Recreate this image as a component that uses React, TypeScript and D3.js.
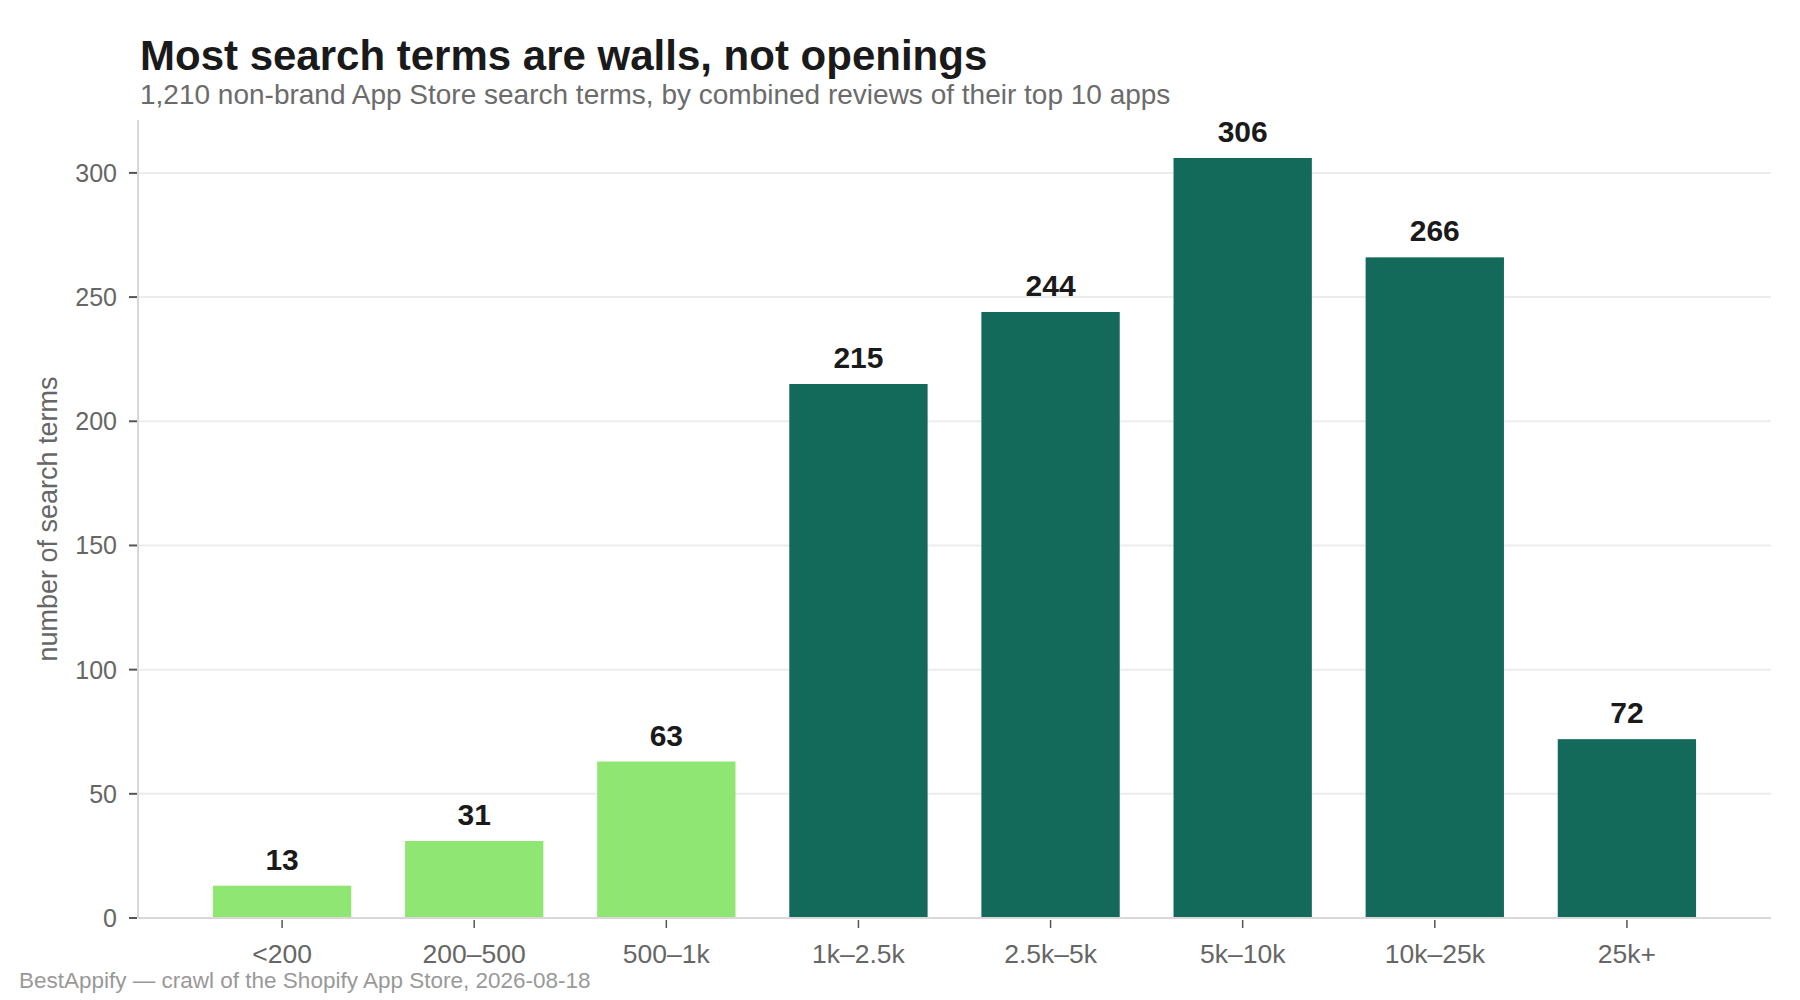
import * as d3 from "d3";
import { useEffect, useRef } from "react";

const categories = ["<200", "200–500", "500–1k", "1k–2.5k", "2.5k–5k", "5k–10k", "10k–25k", "25k+"];
const counts = [13, 31, 63, 215, 244, 306, 266, 72];
const tiers = ["opening", "opening", "opening", "wall", "wall", "wall", "wall", "wall"];
const yTicks = [0, 50, 100, 150, 200, 250, 300];

const WIDTH = 1800;
const HEIGHT = 1000;
const FONT = "'Liberation Sans', Arial, Helvetica, sans-serif";

const tierColor: Record<string, string> = {
  opening: "#90e673",
  wall: "#13695a",
};

export default function App() {
  const ref = useRef<SVGSVGElement>(null);

  useEffect(() => {
    document.body.style.margin = "0";
    const svg = d3.select(ref.current);
    svg.selectAll("*").remove();

    const left = 138;
    const right = 1771;
    const top = 120;
    const bottom = 918;

    const x = d3
      .scaleBand<string>()
      .domain(categories)
      .range([left, right])
      .paddingInner(0.28)
      .paddingOuter(0.39);

    const y = d3
      .scaleLinear()
      .domain([0, d3.max(counts)! * 1.05])
      .range([bottom, top]);

    svg.attr("font-family", FONT);

    // gridlines
    svg
      .append("g")
      .selectAll("line")
      .data(yTicks.filter((t) => t > 0))
      .join("line")
      .attr("x1", left)
      .attr("x2", right)
      .attr("y1", (d) => y(d))
      .attr("y2", (d) => y(d))
      .attr("stroke", "#ececec")
      .attr("stroke-width", 2);

    // bars
    svg
      .append("g")
      .selectAll("rect")
      .data(categories)
      .join("rect")
      .attr("x", (d) => x(d)!)
      .attr("width", x.bandwidth())
      .attr("y", (_, i) => y(counts[i]))
      .attr("height", (_, i) => bottom - y(counts[i]))
      .attr("fill", (_, i) => tierColor[tiers[i]]);

    // value labels
    svg
      .append("g")
      .selectAll("text")
      .data(categories)
      .join("text")
      .attr("x", (d) => x(d)! + x.bandwidth() / 2)
      .attr("y", (_, i) => y(counts[i]) - 16)
      .attr("text-anchor", "middle")
      .attr("font-size", 30)
      .attr("font-weight", 700)
      .attr("fill", "#1a1a1a")
      .text((_, i) => counts[i]);

    // axis spines
    svg
      .append("line")
      .attr("x1", left)
      .attr("x2", left)
      .attr("y1", top)
      .attr("y2", bottom)
      .attr("stroke", "#d8d8d8")
      .attr("stroke-width", 2);
    svg
      .append("line")
      .attr("x1", left)
      .attr("x2", right)
      .attr("y1", bottom)
      .attr("y2", bottom)
      .attr("stroke", "#d8d8d8")
      .attr("stroke-width", 2);

    // y ticks
    const yg = svg.append("g");
    yg.selectAll("line")
      .data(yTicks)
      .join("line")
      .attr("x1", left - 9)
      .attr("x2", left - 1)
      .attr("y1", (d) => y(d))
      .attr("y2", (d) => y(d))
      .attr("stroke", "#555")
      .attr("stroke-width", 2);
    yg.selectAll("text")
      .data(yTicks)
      .join("text")
      .attr("x", left - 21)
      .attr("y", (d) => y(d))
      .attr("dy", "0.36em")
      .attr("text-anchor", "end")
      .attr("font-size", 25)
      .attr("fill", "#666")
      .text((d) => d);

    // x ticks
    const xg = svg.append("g");
    xg.selectAll("line")
      .data(categories)
      .join("line")
      .attr("x1", (d) => x(d)! + x.bandwidth() / 2)
      .attr("x2", (d) => x(d)! + x.bandwidth() / 2)
      .attr("y1", bottom + 2)
      .attr("y2", bottom + 10)
      .attr("stroke", "#555")
      .attr("stroke-width", 1.5);
    xg.selectAll("text")
      .data(categories)
      .join("text")
      .attr("x", (d) => x(d)! + x.bandwidth() / 2)
      .attr("y", 963)
      .attr("text-anchor", "middle")
      .attr("font-size", 26.5)
      .attr("fill", "#666")
      .text((d) => d);

    // y axis title
    svg
      .append("text")
      .attr("transform", `translate(57,${(top + bottom) / 2}) rotate(-90)`)
      .attr("text-anchor", "middle")
      .attr("font-size", 27)
      .attr("fill", "#666")
      .text("number of search terms");

    // title block
    svg
      .append("text")
      .attr("x", 140)
      .attr("y", 70)
      .attr("font-size", 42)
      .attr("font-weight", 700)
      .attr("fill", "#1a1a1a")
      .text("Most search terms are walls, not openings");
    svg
      .append("text")
      .attr("x", 140)
      .attr("y", 104)
      .attr("font-size", 28)
      .attr("fill", "#6b6b6b")
      .text("1,210 non-brand App Store search terms, by combined reviews of their top 10 apps");

    svg
      .append("text")
      .attr("x", 19)
      .attr("y", 988)
      .attr("font-size", 22.5)
      .attr("fill", "#999")
      .text("BestAppify — crawl of the Shopify App Store, 2026-08-18");
  }, []);

  return (
    <svg
      ref={ref}
      width={WIDTH}
      height={HEIGHT}
      viewBox={`0 0 ${WIDTH} ${HEIGHT}`}
      style={{ display: "block", background: "#fff" }}
    />
  );
}
